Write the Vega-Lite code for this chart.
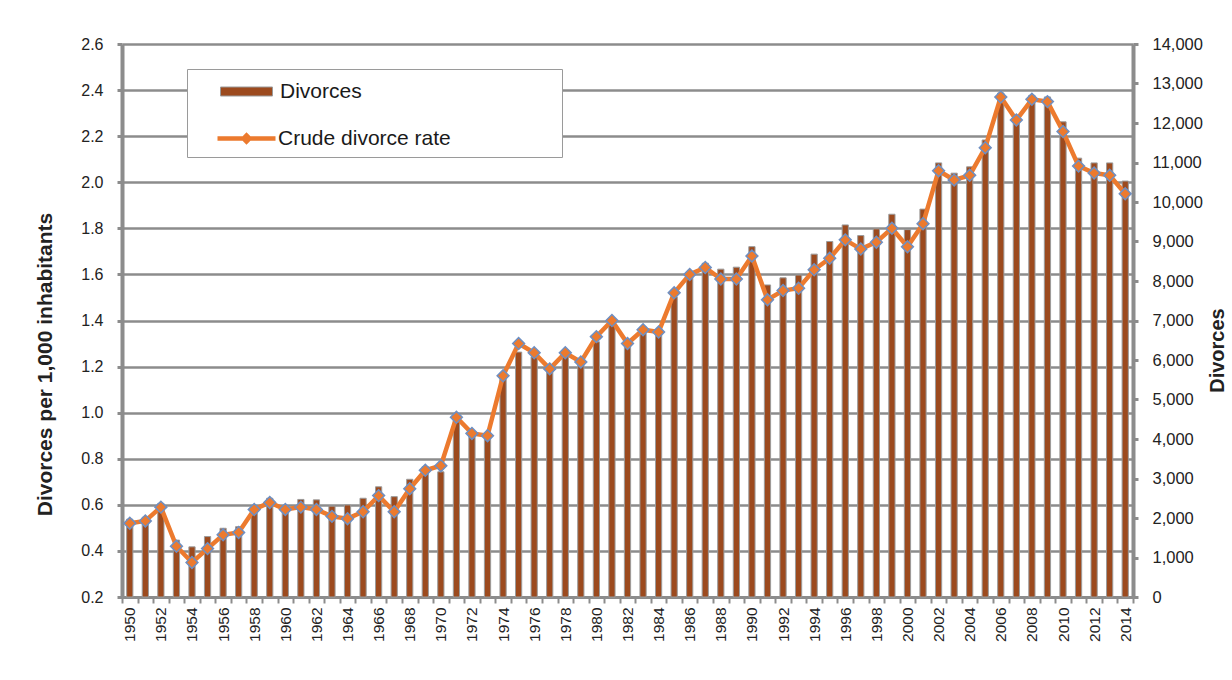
{
  "$schema": "https://vega.github.io/schema/vega-lite/v6.json",
  "width": 1011,
  "height": 553,
  "autosize": {"type": "none"},
  "padding": {"left": 122, "top": 44, "right": 99, "bottom": 83},
  "background": "white",
  "config": {
    "font": "Liberation Sans",
    "view": {"stroke": null},
    "axis": {
      "labelFont": "Liberation Sans",
      "titleFont": "Liberation Sans",
      "labelColor": "#222222",
      "titleColor": "#222222",
      "domainColor": "#8c8c8c",
      "tickColor": "#8c8c8c",
      "gridColor": "#8c8c8c"
    },
    "legend": {
      "labelFont": "Liberation Sans",
      "labelFontSize": 21,
      "labelColor": "#1a1a1a",
      "labelLimit": 500,
      "symbolSize": 400,
      "padding": 12
    }
  },
  "data": {
    "values": [
      {"year": 1950, "rate": 0.52, "divorces": 1970},
      {"year": 1951, "rate": 0.53, "divorces": 2020},
      {"year": 1952, "rate": 0.59, "divorces": 2370},
      {"year": 1953, "rate": 0.42, "divorces": 1440},
      {"year": 1954, "rate": 0.35, "divorces": 1270},
      {"year": 1955, "rate": 0.41, "divorces": 1530},
      {"year": 1956, "rate": 0.47, "divorces": 1740},
      {"year": 1957, "rate": 0.48, "divorces": 1780},
      {"year": 1958, "rate": 0.58, "divorces": 2250},
      {"year": 1959, "rate": 0.61, "divorces": 2500},
      {"year": 1960, "rate": 0.58, "divorces": 2290},
      {"year": 1961, "rate": 0.59, "divorces": 2470},
      {"year": 1962, "rate": 0.58, "divorces": 2460},
      {"year": 1963, "rate": 0.55, "divorces": 2300},
      {"year": 1964, "rate": 0.54, "divorces": 2330},
      {"year": 1965, "rate": 0.57, "divorces": 2500},
      {"year": 1966, "rate": 0.64, "divorces": 2790},
      {"year": 1967, "rate": 0.57, "divorces": 2540},
      {"year": 1968, "rate": 0.67, "divorces": 2980},
      {"year": 1969, "rate": 0.75, "divorces": 3300},
      {"year": 1970, "rate": 0.77, "divorces": 3170},
      {"year": 1971, "rate": 0.98, "divorces": 4610},
      {"year": 1972, "rate": 0.91, "divorces": 4190},
      {"year": 1973, "rate": 0.90, "divorces": 4100},
      {"year": 1974, "rate": 1.16, "divorces": 5580},
      {"year": 1975, "rate": 1.30, "divorces": 6200},
      {"year": 1976, "rate": 1.26, "divorces": 6080},
      {"year": 1977, "rate": 1.19, "divorces": 5750},
      {"year": 1978, "rate": 1.26, "divorces": 6250},
      {"year": 1979, "rate": 1.22, "divorces": 6040},
      {"year": 1980, "rate": 1.33, "divorces": 6460},
      {"year": 1981, "rate": 1.40, "divorces": 7010},
      {"year": 1982, "rate": 1.30, "divorces": 6420},
      {"year": 1983, "rate": 1.36, "divorces": 6840},
      {"year": 1984, "rate": 1.35, "divorces": 6720},
      {"year": 1985, "rate": 1.52, "divorces": 7600},
      {"year": 1986, "rate": 1.60, "divorces": 8190},
      {"year": 1987, "rate": 1.63, "divorces": 8450},
      {"year": 1988, "rate": 1.58, "divorces": 8300},
      {"year": 1989, "rate": 1.58, "divorces": 8350},
      {"year": 1990, "rate": 1.68, "divorces": 8870},
      {"year": 1991, "rate": 1.49, "divorces": 7900},
      {"year": 1992, "rate": 1.53, "divorces": 8080},
      {"year": 1993, "rate": 1.54, "divorces": 8150},
      {"year": 1994, "rate": 1.62, "divorces": 8680},
      {"year": 1995, "rate": 1.67, "divorces": 9000},
      {"year": 1996, "rate": 1.75, "divorces": 9420},
      {"year": 1997, "rate": 1.71, "divorces": 9150},
      {"year": 1998, "rate": 1.74, "divorces": 9320},
      {"year": 1999, "rate": 1.80, "divorces": 9690},
      {"year": 2000, "rate": 1.72, "divorces": 9300},
      {"year": 2001, "rate": 1.82, "divorces": 9820},
      {"year": 2002, "rate": 2.05, "divorces": 10990},
      {"year": 2003, "rate": 2.01, "divorces": 10730},
      {"year": 2004, "rate": 2.03, "divorces": 10890},
      {"year": 2005, "rate": 2.15, "divorces": 11570},
      {"year": 2006, "rate": 2.37, "divorces": 12760},
      {"year": 2007, "rate": 2.27, "divorces": 12200},
      {"year": 2008, "rate": 2.36, "divorces": 12700},
      {"year": 2009, "rate": 2.35, "divorces": 12660},
      {"year": 2010, "rate": 2.22, "divorces": 12030},
      {"year": 2011, "rate": 2.07, "divorces": 11110},
      {"year": 2012, "rate": 2.04, "divorces": 10990},
      {"year": 2013, "rate": 2.03, "divorces": 10990},
      {"year": 2014, "rate": 1.95, "divorces": 10530}
    ]
  },
  "encoding": {
    "x": {
      "field": "year",
      "type": "ordinal",
      "scale": {"paddingInner": 0, "paddingOuter": 0},
      "axis": {
        "title": null,
        "labelAngle": 270,
        "labelExpr": "datum.value % 2 === 0 ? datum.label : ''",
        "labelOverlap": false,
        "tickBand": "extent",
        "tickSize": 6,
        "tickWidth": 2,
        "domainWidth": 3,
        "labelFontSize": 15.5,
        "labelPadding": 4,
        "grid": false
      }
    }
  },
  "layer": [
    {
      "mark": {"type": "bar", "width": {"band": 0.4}, "stroke": "#9b9b9b", "strokeWidth": 1},
      "encoding": {
        "y": {
          "field": "divorces",
          "type": "quantitative",
          "scale": {"domain": [0, 14000], "nice": false},
          "axis": {
            "orient": "right",
            "title": "Divorces",
            "titleFontSize": 20,
            "titleFontWeight": "bold",
            "titleAngle": 270,
            "titlePadding": 25,
            "titleY": 306,
            "values": [0, 1000, 2000, 3000, 4000, 5000, 6000, 7000, 8000, 9000, 10000, 11000, 12000, 13000, 14000],
            "format": ",d",
            "labelFontSize": 16.5,
            "labelPadding": 14,
            "tickSize": 5,
            "tickWidth": 3,
            "domainWidth": 4,
            "grid": false
          }
        },
        "fill": {
          "datum": "Divorces",
          "type": "nominal",
          "scale": {"domain": ["Divorces"], "range": ["#9C4A1E"]},
          "legend": {
            "orient": "none",
            "legendX": 65,
            "legendY": 25,
            "title": "\u00a0",
            "titleOrient": "bottom",
            "titleFontSize": 20,
            "titlePadding": 23,
            "fillColor": "white",
            "strokeColor": "#9a9a9a",
            "symbolOffset": 37,
            "labelOffset": 23,
            "symbolType": "M-2.6,-0.45H2.6V0.45H-2.6ZM30.1,0",
            "symbolStrokeColor": "#9a9a9a",
            "symbolStrokeWidth": 1
          }
        }
      }
    },
    {
      "encoding": {
        "y": {
          "field": "rate",
          "type": "quantitative",
          "scale": {"domain": [0.2, 2.6], "nice": false, "zero": false},
          "axis": {
            "orient": "left",
            "title": "Divorces per 1,000 inhabitants",
            "titleFontSize": 21,
            "titleFontWeight": "bold",
            "titleAngle": 270,
            "titlePadding": 25,
            "titleY": 320,
            "values": [0.2, 0.4, 0.6, 0.8, 1.0, 1.2, 1.4, 1.6, 1.8, 2.0, 2.2, 2.4, 2.6],
            "format": ".1f",
            "labelFontSize": 16,
            "labelPadding": 14,
            "tickSize": 5,
            "tickWidth": 3,
            "domainWidth": 4,
            "grid": true,
            "gridWidth": 2.5
          }
        }
      },
      "layer": [
        {
          "mark": {"type": "line", "strokeWidth": 4.5},
          "encoding": {
            "stroke": {
              "datum": "Crude divorce rate",
              "type": "nominal",
              "scale": {"domain": ["Crude divorce rate"], "range": ["#EC7A2E"]},
              "legend": {
                "orient": "none",
                "legendX": 65,
                "legendY": 70,
                "title": null,
                "symbolOffset": 35,
                "labelOffset": 19,
                "symbolType": "M-2.9,0H2.9M-0.3,0L0,-0.3L0.3,0L0,0.3Z",
                "symbolStrokeWidth": 4.5
              }
            }
          }
        },
        {
          "mark": {"type": "point", "shape": "diamond", "filled": true, "fill": "#EC7A2E", "stroke": "#6E8FC2", "strokeWidth": 1.5, "size": 140, "opacity": 1}
        }
      ]
    }
  ],
  "resolve": {"scale": {"y": "independent"}}
}
